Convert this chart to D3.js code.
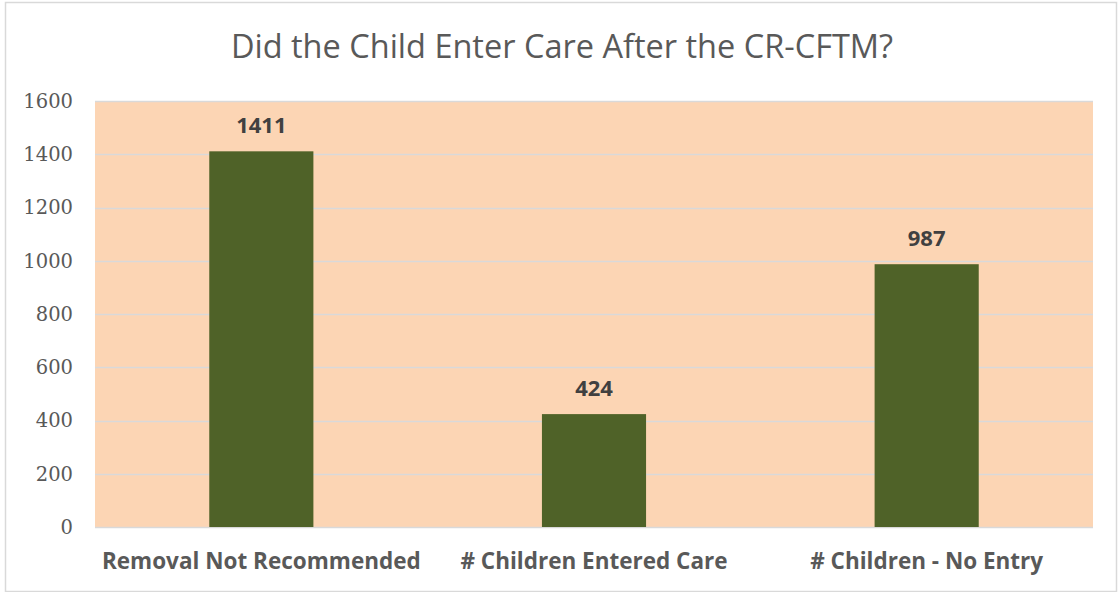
<!DOCTYPE html>
<html>
<head>
<meta charset="utf-8">
<script src="https://cdn.jsdelivr.net/npm/d3@7"></script>
<style>
  body { margin: 0; background: #fff; }
  svg { display: block; }
</style>
</head>
<body>
<svg id="chart"></svg>
<script>
// chart data
const categories = ["Removal Not Recommended", "# Children Entered Care", "# Children - No Entry"];
const values = [1411, 424, 987];
const yTicks = [0, 200, 400, 600, 800, 1000, 1200, 1400, 1600];
const chartTitle = "Did the Child Enter Care After the CR-CFTM?";

const width = 1119, height = 592;
const margin = {top: 101, right: 26, bottom: 65, left: 95};
const innerW = width - margin.left - margin.right;
const innerH = height - margin.top - margin.bottom;

const svg = d3.select("#chart")
    .attr("width", width)
    .attr("height", height);

// outer frame
svg.append("rect")
    .attr("x", 5.5).attr("y", 2.5)
    .attr("width", width - 8).attr("height", height - 3)
    .attr("fill", "#fff")
    .attr("stroke", "#d9d9d9")
    .attr("stroke-width", 1.5);

svg.append("text")
    .attr("x", 562)
    .attr("y", 58)
    .attr("text-anchor", "middle")
    .attr("font-family", "'Open Sans', sans-serif")
    .attr("font-size", 32.5)
    .attr("fill", "#595959")
    .text(chartTitle);

const g = svg.append("g")
    .attr("transform", `translate(${margin.left},${margin.top})`);

const xScale = d3.scaleBand()
    .domain(categories)
    .range([0, innerW])
    .paddingInner(0.687)
    .paddingOuter(0.3435);

const yScale = d3.scaleLinear()
    .domain([0, 1600])
    .range([innerH, 0]);

// plot background
g.append("rect")
    .attr("width", innerW)
    .attr("height", innerH)
    .attr("fill", "#fcd5b4");

// gridlines
g.selectAll(".grid")
    .data(yTicks)
    .join("line")
    .attr("class", "grid")
    .attr("x1", 0).attr("x2", innerW)
    .attr("y1", d => Math.round(yScale(d)) + 0.5)
    .attr("y2", d => Math.round(yScale(d)) + 0.5)
    .attr("stroke", "#d9d9d9")
    .attr("stroke-width", 1.5);

// bars
g.selectAll(".bar")
    .data(values)
    .join("rect")
    .attr("class", "bar")
    .attr("x", (d, i) => xScale(categories[i]))
    .attr("y", d => yScale(d))
    .attr("width", xScale.bandwidth())
    .attr("height", d => innerH - yScale(d))
    .attr("fill", "#4f6228");

// value labels
g.selectAll(".val")
    .data(values)
    .join("text")
    .attr("class", "val")
    .attr("x", (d, i) => xScale(categories[i]) + xScale.bandwidth() / 2)
    .attr("y", d => yScale(d) - 18)
    .attr("text-anchor", "middle")
    .attr("font-family", "'Open Sans', sans-serif")
    .attr("font-weight", "bold")
    .attr("font-size", 22)
    .attr("fill", "#404040")
    .text(d => d);

// y axis
const yAxis = d3.axisLeft(yScale)
    .tickValues(yTicks)
    .tickFormat(d3.format("d"))
    .tickSize(0)
    .tickPadding(22);

const yAxisG = g.append("g").call(yAxis);
yAxisG.select(".domain").remove();
yAxisG.selectAll("text")
    .attr("font-family", "'DejaVu Serif', serif")
    .attr("font-size", 19.5)
    .attr("fill", "#595959");

// x axis
const xAxis = d3.axisBottom(xScale).tickSize(0).tickPadding(26);
const xAxisG = g.append("g")
    .attr("transform", `translate(0,${innerH})`)
    .call(xAxis);
xAxisG.select(".domain").remove();
xAxisG.selectAll("text")
    .attr("font-family", "'Open Sans', sans-serif")
    .attr("font-weight", "bold")
    .attr("font-size", 22.5)
    .attr("fill", "#595959");
</script>
</body>
</html>
